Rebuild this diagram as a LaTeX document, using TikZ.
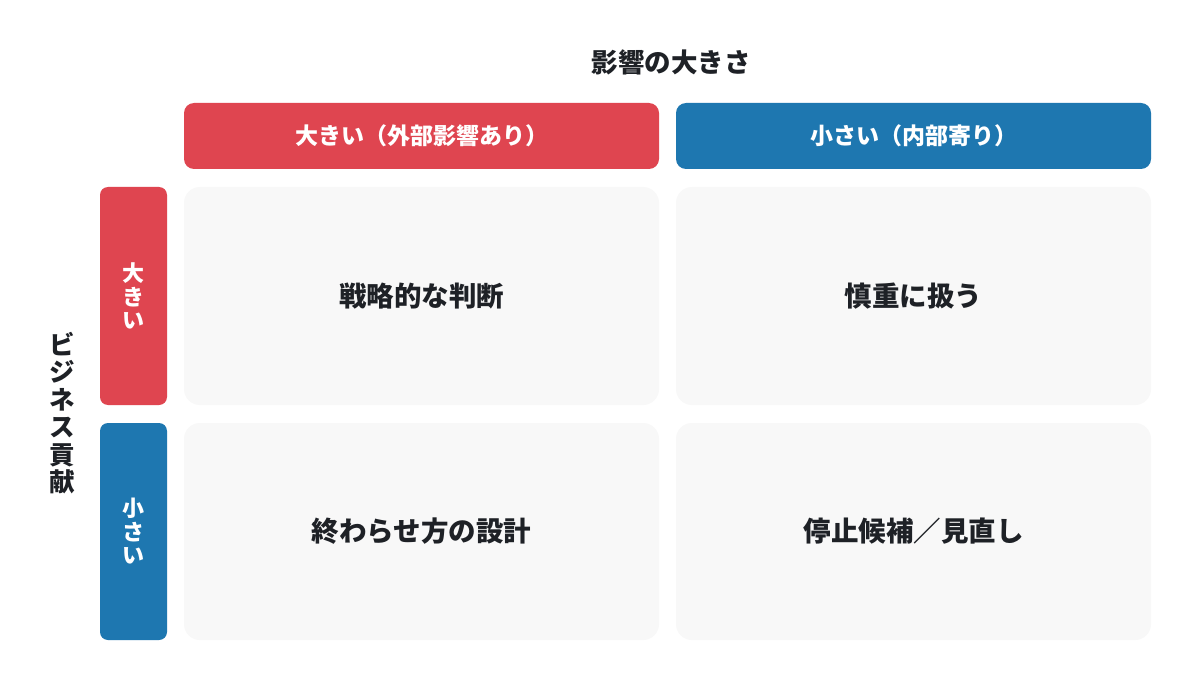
\documentclass[tikz,border=0pt]{standalone}
\usepackage{fontspec}
\setmainfont{Noto Sans CJK JP}
\definecolor{hred}{HTML}{DF4550}
\definecolor{hblue}{HTML}{1E77B0}
\definecolor{cellbg}{HTML}{F8F8F8}
\definecolor{ink}{HTML}{1E2126}
\tikzset{
  headbox/.style={rounded corners=10pt, minimum width=475pt, minimum height=66pt, inner sep=0pt, text=white, font=\fontsize{23}{26}\selectfont\bfseries},
  sidebox/.style={rounded corners=8pt, minimum width=67pt, minimum height=218pt, inner sep=0pt, text=white, align=center, font=\fontsize{22}{23.5}\selectfont\bfseries},
  cellbox/.style={fill=cellbg, rounded corners=16pt, minimum width=475pt, minimum height=218pt, inner sep=0pt, text=ink, font=\fontsize{27.5}{30}\selectfont\bfseries},
  axislabel/.style={text=ink, align=center, inner sep=0pt, font=\fontsize{26.5}{28}\selectfont\bfseries}
}
\begin{document}
\begin{tikzpicture}[x=1pt,y=-1pt]
\useasboundingbox (0,0) rectangle (1200,690);
\fill[white] (0,0) rectangle (1200,690);
\node[axislabel] (title) at (671,62) {影響の大きさ};
\node[headbox, fill=hred] (hbig) at (421.5,136) {大きい（外部影響あり）};
\node[headbox, fill=hblue] (hsmall) at (913.5,136) {小さい（内部寄り）};
\node[axislabel, font=\fontsize{25.5}{27.5}\selectfont\bfseries] (ylab) at (62,413) {ビ\\ジ\\ネ\\ス\\貢\\献};
\node[sidebox, fill=hred] (sbig) at (133.5,296) {大\\き\\い};
\node[sidebox, fill=hblue, minimum height=217pt] (ssmall) at (133.5,531.5) {小\\さ\\い};
\node[cellbox] (c11) at (421.5,296) {戦略的な判断};
\node[cellbox] (c12) at (913.5,296) {慎重に扱う};
\node[cellbox, minimum height=217pt] (c21) at (421.5,531.5) {終わらせ方の設計};
\node[cellbox, minimum height=217pt] (c22) at (913.5,531.5) {停止候補／見直し};
\end{tikzpicture}
\end{document}
